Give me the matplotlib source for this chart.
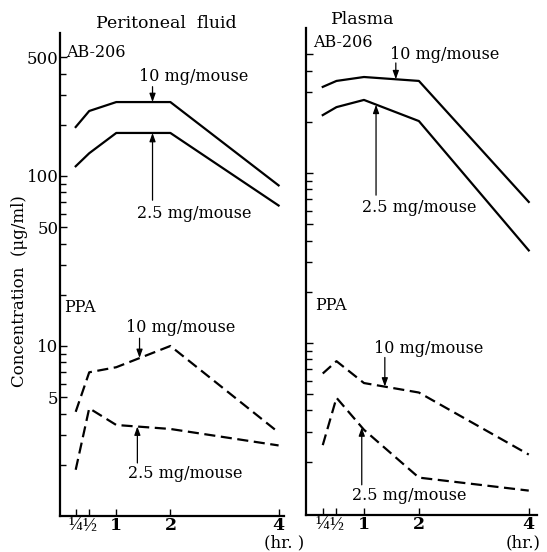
import numpy as np
import matplotlib
matplotlib.use("Agg")
import matplotlib.pyplot as plt
from matplotlib.ticker import FixedLocator, NullFormatter
from matplotlib.transforms import ScaledTranslation

plt.rcParams["font.family"] = ["DejaVu Serif"]

# ── Data (hours, µg/ml) ──────────────────────────────────────────────────────
hours = [0.25, 0.5, 1, 2, 4]
x_ticklabels = ["\u00bc", "\u00bd", "1", "2", "4"]

perit_ab_10 = [194, 241, 272, 272, 88]
perit_ab_25 = [114, 136, 179, 179, 67]
perit_ppa_10 = [4.1, 7.0, 7.5, 10.0, 3.1]
perit_ppa_25 = [1.87, 4.3, 3.43, 3.25, 2.6]

plasma_ab_10 = [321, 348, 367, 348, 67.5]
plasma_ab_25 = [219, 244, 269, 202, 35]
plasma_ppa_10 = [6.6, 7.8, 5.8, 5.1, 2.2]
plasma_ppa_25 = [2.5, 4.75, 3.08, 1.61, 1.35]

y_major = [5, 10, 50, 100, 500]
y_minor = [2, 3, 4, 6, 7, 8, 9, 20, 30, 40, 60, 70, 80, 90, 200, 300, 400]

W, H = 547, 552
fig = plt.figure(figsize=(W / 100, H / 100), dpi=100)

# axes boxes from pixel measurements
axL = fig.add_axes([60 / W, (H - 516) / H, 224 / W, 483 / H])
axR = fig.add_axes([306 / W, (H - 515) / H, 231 / W, 487 / H])

axL.set_xlim(-0.04, 4.1)
axL.set_ylim(1, 693)
axR.set_xlim(-0.055, 4.15)
axR.set_ylim(0.97, 713)

dash = (0, (5, 2.5))
for ax, ab10, ab25, p10, p25 in [
        (axL, perit_ab_10, perit_ab_25, perit_ppa_10, perit_ppa_25),
        (axR, plasma_ab_10, plasma_ab_25, plasma_ppa_10, plasma_ppa_25)]:
    ax.set_yscale("log")
    ax.plot(hours, ab10, color="black", lw=1.6)
    ax.plot(hours, ab25, color="black", lw=1.6)
    ax.plot(hours, p10, color="black", lw=1.6, linestyle=dash)
    ax.plot(hours, p25, color="black", lw=1.6, linestyle=dash)

    for s in ["top", "right"]:
        ax.spines[s].set_visible(False)
    for s in ["left", "bottom"]:
        ax.spines[s].set_linewidth(1.6)

    ax.set_xticks(hours)
    ax.set_xticklabels(x_ticklabels, fontsize=12.5, fontweight="bold")
    # fraction glyphs: narrower family, nudged apart so they don't collide
    for lbl, dx in zip(ax.get_xticklabels()[:2], [-3.5, 3.0]):
        lbl.set_family(["Liberation Serif"])
        lbl.set_fontsize(13.5)
        lbl.set_fontweight("normal")
        lbl.set_transform(lbl.get_transform() +
                          ScaledTranslation(dx / 100, 0, fig.dpi_scale_trans))
    ax.yaxis.set_major_locator(FixedLocator(y_major))
    ax.yaxis.set_minor_locator(FixedLocator(y_minor))
    ax.yaxis.set_minor_formatter(NullFormatter())
    ax.tick_params(axis="both", which="both", direction="in", width=1.0)
    ax.tick_params(axis="both", which="major", length=5)
    ax.tick_params(axis="y", which="minor", length=4)
    ax.tick_params(axis="x", pad=1)

axL.set_yticklabels([str(v) for v in y_major], fontsize=12)
axL.tick_params(axis="y", pad=1)
axR.set_yticklabels([])

axL.set_ylabel("Concentration  (\u03bcg/ml)", fontsize=12)
axL.yaxis.set_label_coords(-0.145, 0.465)

arrow = dict(arrowstyle="-|>,head_length=0.5,head_width=0.18", color="black",
             lw=0.9, shrinkA=0, shrinkB=0)
fs = 11.5


def label(ax, text, x, y, ha="center"):
    ax.text(x, y, text, fontsize=fs, ha=ha, va="center")


def note(ax, x, y_from, y_to):
    ax.annotate("", xy=(x, y_to), xytext=(x, y_from), arrowprops=arrow)


# ── Peritoneal fluid ──
label(axL, "AB-206", 0.07, 530, ha="left")
label(axL, "10 mg/mouse", 2.44, 382)
note(axL, 1.67, 335, 272)
label(axL, "2.5 mg/mouse", 2.45, 60.5)
note(axL, 1.67, 72, 179)
label(axL, "PPA", 0.04, 16.9, ha="left")
label(axL, "10 mg/mouse", 2.19, 12.8)
note(axL, 1.43, 11.1, 8.5)
label(axL, "2.5 mg/mouse", 2.28, 1.79)
note(axL, 1.39, 2.05, 3.36)

# ── Plasma ──
label(axR, "AB-206", 0.07, 582, ha="left")
label(axR, "10 mg/mouse", 2.47, 501)
note(axR, 1.58, 444, 356)
label(axR, "2.5 mg/mouse", 2.0, 63)
note(axR, 1.22, 74, 252)
label(axR, "PPA", 0.11, 16.7, ha="left")
label(axR, "10 mg/mouse", 2.17, 9.3)
note(axR, 1.38, 8.2, 5.53)
label(axR, "2.5 mg/mouse", 1.83, 1.26)
note(axR, 0.96, 1.46, 3.18)

fig.text(166 / W, 1 - 23 / H, "Peritoneal  fluid", fontsize=12.5, ha="center", va="center")
fig.text(363 / W, 1 - 20 / H, "Plasma", fontsize=12.5, ha="center", va="center")
fig.text(284 / W, 1 - 543 / H, "(hr. )", fontsize=12, ha="center", va="center")
fig.text(523 / W, 1 - 543 / H, "(hr.)", fontsize=12, ha="center", va="center")

fig.savefig("out.png", dpi=100)
